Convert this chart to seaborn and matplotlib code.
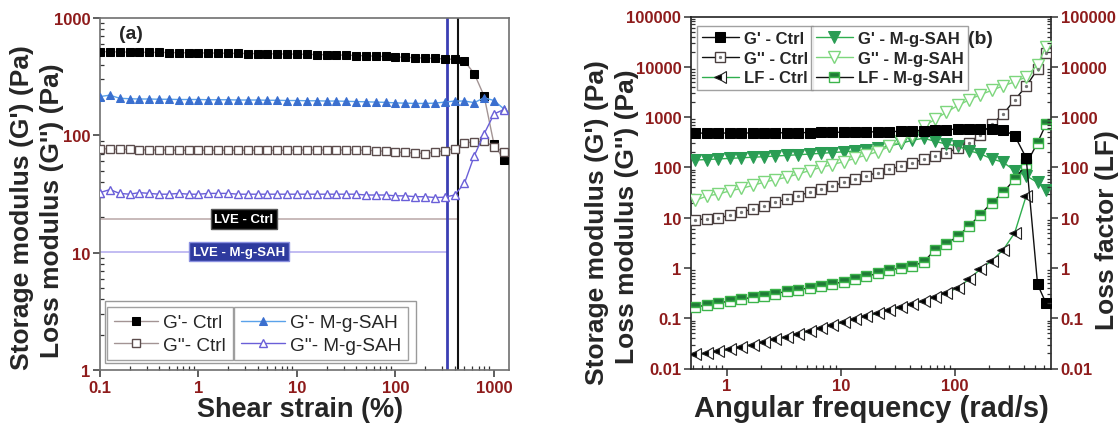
import matplotlib
matplotlib.use("Agg")
import matplotlib.pyplot as plt
from matplotlib.ticker import FixedLocator, LogLocator, NullFormatter, FuncFormatter
from matplotlib.patches import Rectangle
from matplotlib.legend_handler import HandlerTuple
import seaborn as sns

sns.set_theme(style="white")
plt.rcParams['font.family'] = ['Liberation Sans', 'DejaVu Sans']

# ---------------- (a) amplitude sweep ----------------
strain = [0.1, 0.126, 0.158, 0.2, 0.251, 0.316, 0.398, 0.501, 0.631, 0.794,
          1.0, 1.26, 1.58, 2.0, 2.51, 3.16, 3.98, 5.01, 6.31, 7.94,
          10, 12.6, 15.8, 20, 25.1, 31.6, 39.8, 50.1, 63.1, 79.4,
          100, 126, 158, 200, 251, 316, 398, 501, 631, 794, 1000, 1259]
gp_ctrl_a = [518, 515, 514, 512, 511, 510, 509, 508, 506, 505,
             504, 503, 502, 500, 499, 498, 497, 496, 494, 493,
             492, 490, 488, 486, 484, 482, 479, 476, 473, 470,
             466, 462, 458, 455, 452, 448, 444, 430, 335, 216, 84, 62]
gpp_ctrl_a = [77, 76.5, 76, 76, 75.5, 75, 75, 75, 74.5, 74.5,
              74.5, 74.5, 74.5, 74.5, 74.5, 74.5, 74.5, 74.5, 74.5, 74.5,
              75, 75, 75, 75, 75, 75, 75, 74.5, 74, 73,
              72, 71.5, 70.5, 70, 72, 74, 77, 86, 88, 89, 80, 72]
gp_msah_a = [214, 220, 207, 205, 204, 204, 203, 203, 202, 202,
             202, 201, 201, 201, 200, 200, 200, 199, 199, 198,
             198, 197, 197, 196, 196, 195, 194, 193, 192, 191,
             189, 188, 187, 187, 188, 192, 196, 196, 190, 209, 198, 168]
gpp_msah_a = [32.5, 34.5, 32, 31.5, 32.5, 32, 31.5, 31.5, 32, 31.5,
              31.5, 32, 32, 32, 31.5, 31.5, 31.5, 31.5, 31.5, 31.5,
              31.5, 31.5, 31.5, 31.5, 31.5, 31.5, 31.5, 31, 31, 31,
              30.5, 30.5, 30, 30, 29.5, 29.7, 31, 39, 67, 103, 152, 166]
lve_strain_ctrl = 431
lve_strain_msah = 333
lve_level_ctrl = 19.4
lve_level_msah = 10.2

# ---------------- (b) frequency sweep ----------------
freq = [0.53, 0.67, 0.84, 1.06, 1.33, 1.68, 2.11, 2.66, 3.35, 4.21,
        5.3, 6.67, 8.4, 10.6, 13.3, 16.7, 21.1, 26.5, 33.4, 42.1,
        53.0, 66.7, 84.0, 106, 133, 167, 211, 265, 334, 421,
        530, 628]
gp_ctrl_b = [480, 480, 481, 482, 483, 484, 485, 486, 488, 490,
             492, 495, 497, 500, 503, 507, 510, 515, 520, 530,
             540, 555, 565, 575, 580, 585, 585, 555, 425, 155, 0.47, 0.2]
gpp_ctrl_b = [9.1, 9.4, 9.7, 11.3, 12.8, 14.9, 17.4, 20.2, 23.6, 27.4,
              31.9, 37, 43, 50, 58.6, 68, 79, 91, 106, 124,
              145, 165, 195, 240, 310, 450, 720, 1150, 2200, 4100, 9000, 19000]
lf_ctrl = [0.019, 0.02, 0.022, 0.024, 0.027, 0.03, 0.034, 0.038, 0.043, 0.049,
           0.056, 0.064, 0.073, 0.083, 0.095, 0.11, 0.125, 0.145, 0.165, 0.19,
           0.22, 0.26, 0.32, 0.40, 0.6, 0.95, 1.4, 2.3, 5.0, 27]
gp_msah_b = [140, 143, 147, 151, 155, 159, 163, 168, 173, 178,
             184, 190, 197, 204, 212, 222, 240, 265, 300, 345,
             380, 330, 290, 265, 215, 185, 147, 126, 86, 68, 50, 35]
gpp_msah_b = [22, 27, 29.5, 34, 38, 43.6, 50.6, 57, 63.6, 74,
              86, 100, 113, 130, 151, 176, 205, 260, 330, 430,
              650, 900, 1250, 1700, 2200, 2800, 3400, 4200, 5000, 6300, 11000, 25000]
lf_msah = [0.17, 0.18, 0.2, 0.22, 0.24, 0.26, 0.28, 0.31, 0.34, 0.37,
           0.4, 0.44, 0.48, 0.53, 0.6, 0.68, 0.78, 0.9, 1.0, 1.1,
           1.3, 2.3, 3.0, 4.3, 6.8, 11.5, 20, 32, 58, 115, 310, 720]

TICK_RED = '#8e1b1b'
fmt = FuncFormatter(lambda v, p: f'{v:g}')

fig = plt.figure(figsize=(11.2, 4.27), dpi=100)
axA = fig.add_axes([100 / 1120, 56 / 427, 409 / 1120, 352 / 427])
axB = fig.add_axes([691 / 1120, 57.5 / 427, 360 / 1120, 352 / 427])


def style_log_axis(ax, xt, yt, spine_color):
    ax.xaxis.set_major_locator(FixedLocator(xt))
    ax.yaxis.set_major_locator(FixedLocator(yt))
    ax.xaxis.set_minor_locator(LogLocator(base=10, subs=range(2, 10), numticks=20))
    ax.yaxis.set_minor_locator(LogLocator(base=10, subs=range(2, 10), numticks=20))
    ax.xaxis.set_major_formatter(fmt)
    ax.yaxis.set_major_formatter(fmt)
    ax.xaxis.set_minor_formatter(NullFormatter())
    ax.yaxis.set_minor_formatter(NullFormatter())
    ax.tick_params(which='major', direction='out', length=5, width=1.1,
                   color='#333333', labelcolor=TICK_RED, labelsize=12,
                   bottom=True, left=True, top=False, right=False, pad=2)
    ax.tick_params(which='minor', direction='in', length=3, width=0.9,
                   color='#333333', bottom=True, left=True, top=False, right=False)
    for lab in ax.get_xticklabels() + ax.get_yticklabels():
        lab.set_fontweight('bold')
    for s in ax.spines.values():
        s.set_color(spine_color)
        s.set_linewidth(1.2)
    ax.grid(False)


def series(ax, x, y, **kw):
    sns.lineplot(x=x, y=y, ax=ax, estimator=None, sort=False, legend=False, **kw)
    return ax.lines[-1]


# ---------- panel (a) ----------
axA.set_xscale('log')
axA.set_yscale('log')

axA.plot([0.1, lve_strain_ctrl], [lve_level_ctrl] * 2, color='#bfaeae', lw=1.2, zorder=1)
axA.plot([0.1, lve_strain_msah], [lve_level_msah] * 2, color='#b8b0f0', lw=1.2, zorder=1)
axA.axvline(lve_strain_msah, color='#3b3fb4', lw=2.0, zorder=2)
axA.axvline(lve_strain_ctrl, color='#111111', lw=1.5, zorder=2)

hA1 = series(axA, strain, gp_ctrl_a, color='#a39494', lw=1.0, marker='s', markersize=5.5,
             markerfacecolor='black', markeredgecolor='black', zorder=4)
hA2 = series(axA, strain, gpp_ctrl_a, color='#a39494', lw=1.0, marker='s', markersize=5.5,
             markerfacecolor='white', markeredgecolor='#5c4d4d', markeredgewidth=1.0, zorder=4)
hA3 = series(axA, strain, gp_msah_a, color='#5aa2ea', lw=1.0, marker='^', markersize=6,
             markerfacecolor='#3a6fcf', markeredgecolor='#3a6fcf', zorder=4)
hA4 = series(axA, strain, gpp_msah_a, color='#6a5fd8', lw=1.0, marker='^', markersize=6,
             markerfacecolor='white', markeredgecolor='#6a5fd8', markeredgewidth=1.0, zorder=4)

style_log_axis(axA, [0.1, 1, 10, 100, 1000], [1, 10, 100, 1000], '#6f6f6f')
axA.set_xlim(0.1, 1420)
axA.set_ylim(1, 1000)

axA.text(2.9, lve_level_ctrl, 'LVE - Ctrl', color='white', fontsize=9.5, fontweight='bold',
         ha='center', va='center', zorder=6,
         bbox=dict(boxstyle='square,pad=0.28', facecolor='black', edgecolor='#555555'))
axA.text(2.58, lve_level_msah, 'LVE - M-g-SAH', color='white', fontsize=9.5, fontweight='bold',
         ha='center', va='center', zorder=6,
         bbox=dict(boxstyle='square,pad=0.28', facecolor='#2e3a9e', edgecolor='#8a90e0'))
axA.text(0.076, 0.955, '(a)', transform=axA.transAxes, fontsize=14,
         fontweight='bold', ha='center', va='center')

legA_kw = dict(loc='lower left', fontsize=13.7, frameon=True, fancybox=False,
               edgecolor='#8a8a8a', borderpad=0.35, handlelength=2.3, handletextpad=0.3,
               labelspacing=0.28, borderaxespad=0)
legA1 = axA.legend([hA1, hA2], ["G'- Ctrl", "G''- Ctrl"], bbox_to_anchor=(0.018, 0.027), **legA_kw)
legA1.get_frame().set_linewidth(1.0)
axA.add_artist(legA1)
legA2 = axA.legend([hA3, hA4], ["G'- M-g-SAH", "G''- M-g-SAH"], bbox_to_anchor=(0.328, 0.027), **legA_kw)
legA2.get_frame().set_linewidth(1.0)
axA.add_patch(Rectangle((0.013, 0.019), 0.76, 0.176, transform=axA.transAxes, fill=False,
                        edgecolor='#9a9a9a', lw=1.0, zorder=5))

fig.text(22 / 1120, 1 - 208 / 427, "Storage modulus (G') (Pa)", rotation=90, fontsize=19,
         fontweight='bold', ha='center', va='center')
fig.text(52 / 1120, 1 - 211 / 427, "Loss modulus (G'') (Pa)", rotation=90, fontsize=19,
         fontweight='bold', ha='center', va='center')
fig.text(300 / 1120, 1 - 410 / 427, 'Shear strain (%)', fontsize=19.5, fontweight='bold',
         ha='center', va='center')

# ---------- panel (b) ----------
axB.set_xscale('log')
axB.set_yscale('log')

GREEN = '#2fae4e'
LIGHT_GREEN = '#7dd67d'
hB1 = series(axB, freq, gp_ctrl_b, color='#111111', lw=1.0, marker='s', markersize=7.5,
             markerfacecolor='black', markeredgecolor='black', zorder=5)
hB2 = series(axB, freq, gpp_ctrl_b, color='#111111', lw=1.0, marker='s', markersize=7.5,
             markerfacecolor='white', markeredgecolor='#4a3f3f', markeredgewidth=1.0, zorder=4)
hB2d = series(axB, freq, gpp_ctrl_b, color='#666666', lw=0, marker='o', markersize=1.6,
              markerfacecolor='#777777', markeredgecolor='#777777', zorder=4.5)
hB3 = series(axB, freq[:len(lf_ctrl)], lf_ctrl, color=GREEN, lw=1.0, marker='<', markersize=8,
             fillstyle='left', markerfacecolor='black', markerfacecoloralt='white',
             markeredgecolor='#222222', markeredgewidth=0.8, zorder=4)
hB4 = series(axB, freq, gp_msah_b, color=GREEN, lw=1.0, marker='v', markersize=8.5,
             markerfacecolor='#2a9d54', markeredgecolor='#2a9d54', zorder=4)
hB5 = series(axB, freq, gpp_msah_b, color=LIGHT_GREEN, lw=1.0, marker='v', markersize=8.5,
             markerfacecolor='white', markeredgecolor=LIGHT_GREEN, markeredgewidth=1.0, zorder=4)
hB6 = series(axB, freq, lf_msah, color='#111111', lw=1.0, marker='s', markersize=7.5,
             fillstyle='top', markerfacecolor='#1f7a36', markerfacecoloralt='white',
             markeredgecolor='#3cb44b', markeredgewidth=1.0, zorder=4)

style_log_axis(axB, [1, 10, 100], [0.01, 0.1, 1, 10, 100, 1000, 10000, 100000], '#222222')
axB.set_xlim(0.484, 695)
axB.set_ylim(0.01, 100000)

axR = axB.twinx()
axR.set_yscale('log')
axR.set_ylim(0.01, 100000)
axR.yaxis.set_major_locator(FixedLocator([0.01, 0.1, 1, 10, 100, 1000, 10000, 100000]))
axR.yaxis.set_minor_locator(LogLocator(base=10, subs=range(2, 10), numticks=20))
axR.yaxis.set_major_formatter(fmt)
axR.yaxis.set_minor_formatter(NullFormatter())
axR.tick_params(which='major', direction='out', length=5, width=1.1, color='#333333',
                labelcolor=TICK_RED, labelsize=12, right=True, left=False, pad=2)
axR.tick_params(which='minor', direction='in', length=3, width=0.9, color='#333333',
                right=True, left=False)
for lab in axR.get_yticklabels():
    lab.set_fontweight('bold')
for s in axR.spines.values():
    s.set_visible(False)
axR.grid(False)

axB.text((980 - 691) / 360, (369.5 - 40) / 352, '(b)', transform=axB.transAxes, fontsize=14,
         fontweight='bold', ha='center', va='center')

legB_kw = dict(loc='upper left', prop={'weight': 'bold', 'size': 12}, frameon=True,
               fancybox=False, edgecolor='#8a8a8a', borderpad=0.3, handlelength=2.2,
               handletextpad=0.3, labelspacing=0.28, borderaxespad=0,
               handler_map={tuple: HandlerTuple(ndivide=1, pad=0)})
legB1 = axB.legend([hB1, (hB2, hB2d), hB3], ["G' - Ctrl", "G'' - Ctrl", "LF - Ctrl"],
                   bbox_to_anchor=(0.017, 0.973), **legB_kw)
legB1.get_frame().set_linewidth(1.0)
axB.add_artist(legB1)
legB2 = axB.legend([hB4, hB5, hB6], ["G' - M-g-SAH", "G'' - M-g-SAH", "LF - M-g-SAH"],
                   bbox_to_anchor=(0.333, 0.973), **legB_kw)
legB2.get_frame().set_linewidth(1.0)

fig.text(597 / 1120, 1 - 223 / 427, "Storage modulus (G') (Pa)", rotation=90, fontsize=19,
         fontweight='bold', ha='center', va='center')
fig.text(627 / 1120, 1 - 217 / 427, "Loss modulus (G'') (Pa)", rotation=90, fontsize=19,
         fontweight='bold', ha='center', va='center')
fig.text(1107 / 1120, 1 - 230 / 427, 'Loss factor (LF)', rotation=90, fontsize=19,
         fontweight='bold', ha='center', va='center')
fig.text(871 / 1120, 1 - 409 / 427, 'Angular frequency (rad/s)', fontsize=21, fontweight='bold',
         ha='center', va='center')

fig.savefig('out.png', dpi=100)
